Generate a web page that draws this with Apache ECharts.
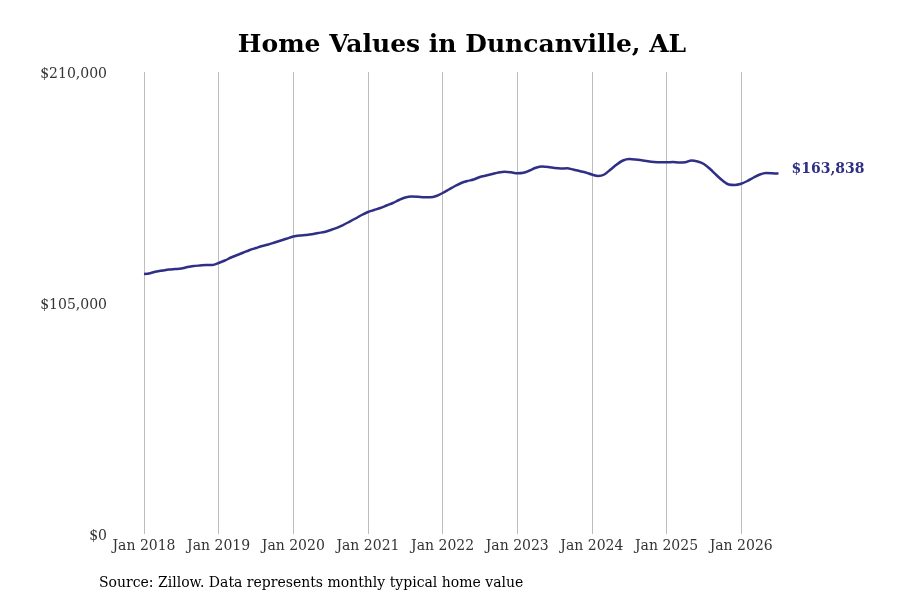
<!DOCTYPE html>
<html>
<head>
<meta charset="utf-8">
<script src="https://cdn.jsdelivr.net/npm/echarts@6/dist/echarts.min.js"></script>
<style>
  html, body { margin: 0; padding: 0; background: #fff; }
  #chart { width: 900px; height: 600px; }
</style>
</head>
<body>
<div id="chart"></div>
<script>
// monthly typical home value, Jan 2018 .. Jul 2026
const startYear = 2018
const homeValues = [
  118180, 118550, 119320, 119770, 120230, 120450, 120680, 121360, 121820, 122050, 122270, 122270,
  123180, 124320, 125680, 126820, 127950, 129090, 130000, 130910, 131590, 132500, 133410, 134320,
  135230, 135680, 135910, 136230, 136820, 137270, 138180, 139180, 140450, 141910, 143410, 145000,
  146360, 147270, 148180, 149320, 150450, 151820, 152950, 153410, 153320, 153090, 153050, 153640,
  155000, 156590, 158180, 159550, 160450, 161140, 162270, 162950, 163640, 164320, 164680, 164410,
  163960, 164180, 165230, 166450, 167050, 166820, 166360, 166140, 166230, 165680, 165000, 164320,
  163410, 162730, 163410, 165680, 167950, 169770, 170450, 170230, 169860, 169410, 169090, 168950,
  168950, 169090, 168860, 168950, 169770, 169320, 168180, 165910, 163180, 160680, 158860, 158640,
  159180, 160450, 162050, 163410, 164090, 164000, 163838
]
const yTicks = [0, 105000, 210000]

const monthNames = ['Jan', 'Feb', 'Mar', 'Apr', 'May', 'Jun', 'Jul', 'Aug', 'Sep', 'Oct', 'Nov', 'Dec']
const months = homeValues.map((v, i) => monthNames[i % 12] + ' ' + (startYear + Math.floor(i / 12)))

const fmtMoney = v => '$' + Math.round(v).toLocaleString('en-US')
const isJan = idx => idx % 12 === 0

const lineColor = '#2f2f86'
const serif = 'DejaVu Serif'

let myChart = echarts.init(document.getElementById('chart'))
let option = {
  animation: false,
  title: {
    text: 'Home Values in Duncanville, AL',
    left: 457,
    top: 28,
    textAlign: 'center',
    textStyle: { fontFamily: serif, fontSize: 25, fontWeight: 'bold', color: '#000' }
  },
  graphic: [
    {
      type: 'text',
      left: 99,
      top: 576,
      style: {
        text: 'Source: Zillow. Data represents monthly typical home value',
        font: '14px "DejaVu Serif"',
        fill: '#000'
      }
    }
  ],
  grid: { left: 144, right: 121.5, top: 72, bottom: 66, containLabel: false },
  xAxis: {
    type: 'category',
    data: months,
    boundaryGap: false,
    axisLine: { show: false },
    axisTick: { show: false },
    axisLabel: {
      interval: isJan,
      fontFamily: serif,
      fontSize: 14,
      color: '#333',
      margin: 5
    },
    splitLine: {
      show: true,
      interval: isJan,
      lineStyle: { color: '#bdbdbd', width: 1 }
    }
  },
  yAxis: {
    type: 'value',
    min: yTicks[0],
    max: yTicks[yTicks.length - 1],
    interval: yTicks[1] - yTicks[0],
    axisLine: { show: false },
    axisTick: { show: false },
    splitLine: { show: false },
    axisLabel: {
      formatter: v => '{v|' + fmtMoney(v) + '}',
      margin: 37,
      rich: {
        v: {
          fontFamily: serif,
          fontSize: 14,
          color: '#333',
          padding: [4, 0, 0, 0]
        }
      }
    }
  },
  series: [
    {
      type: 'line',
      data: homeValues,
      smooth: 0.3,
      showSymbol: false,
      lineStyle: { color: lineColor, width: 2.5 },
      endLabel: {
        show: true,
        formatter: p => fmtMoney(p.value),
        distance: 13,
        offset: [0, -4],
        fontFamily: serif,
        fontSize: 14,
        fontWeight: 'bold',
        color: lineColor
      }
    }
  ]
}
myChart.setOption(option)
</script>
</body>
</html>
